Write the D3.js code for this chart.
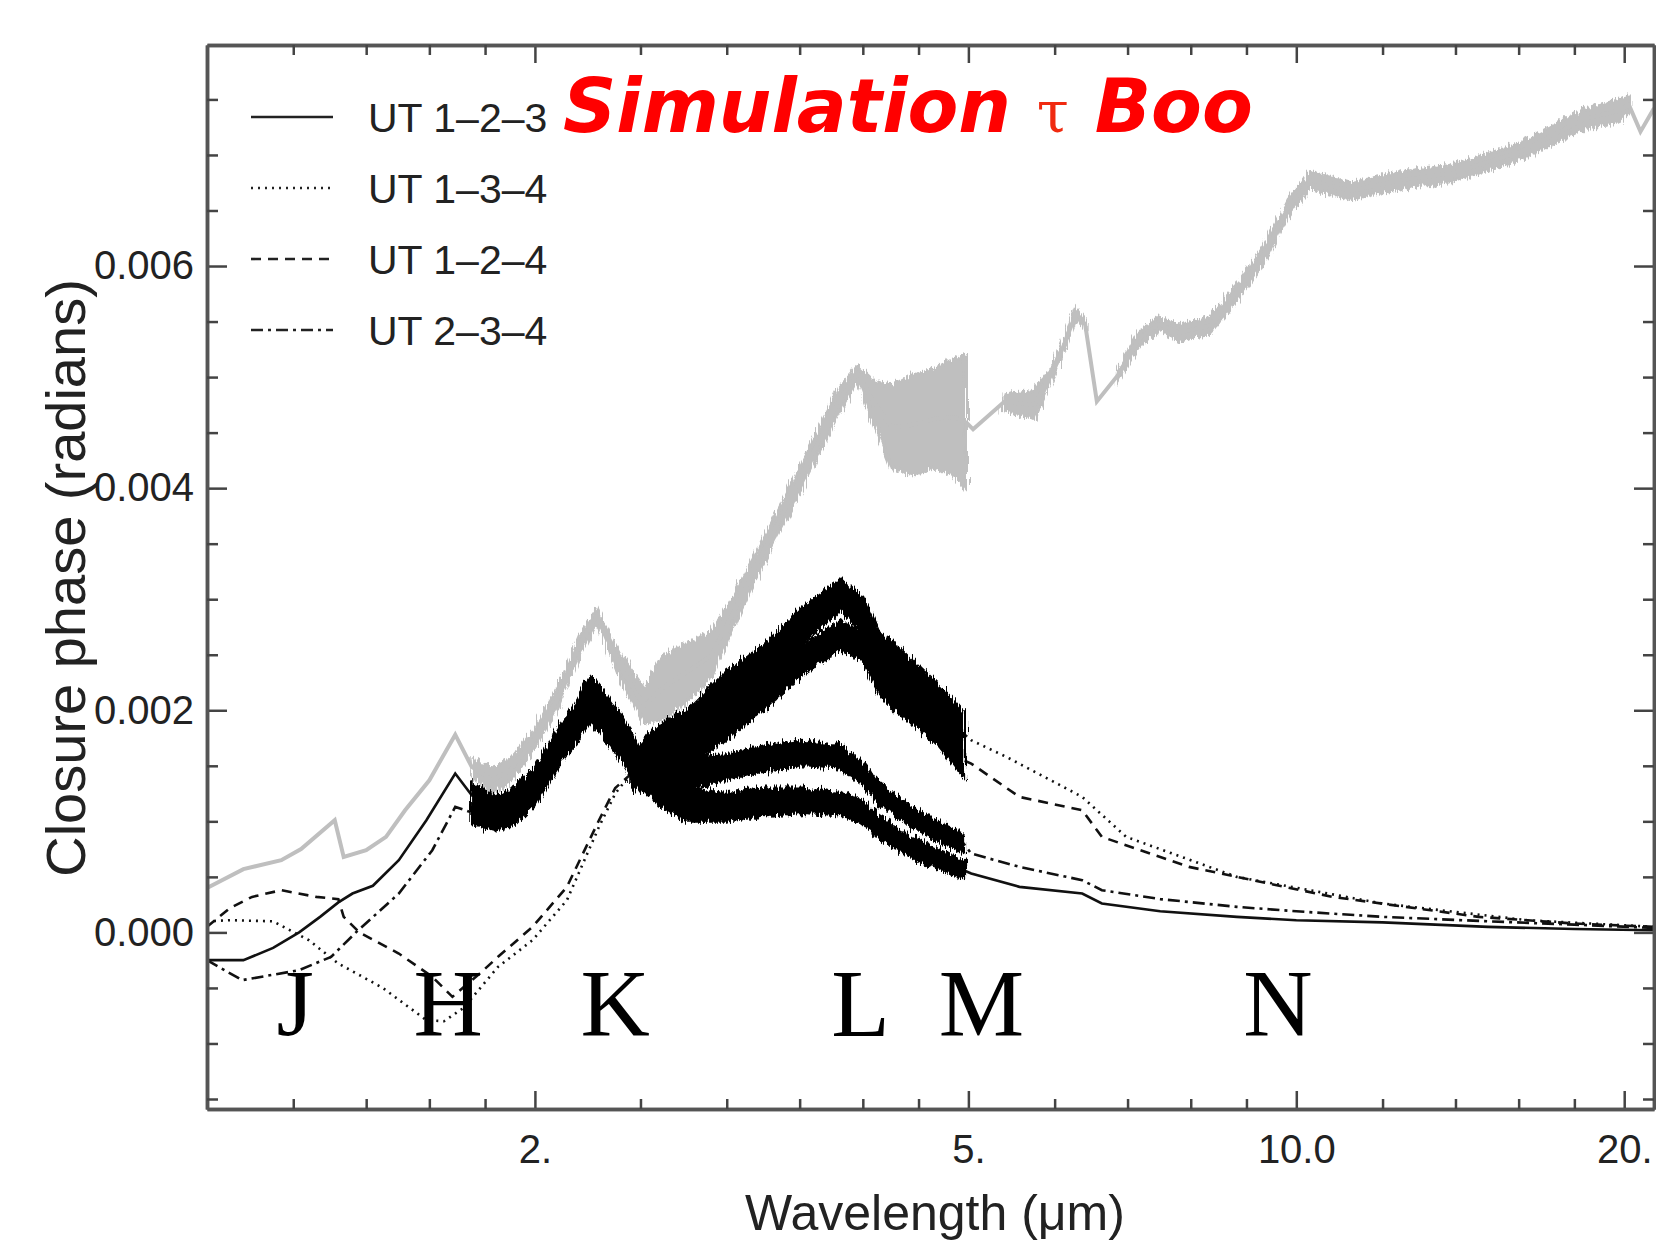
<!DOCTYPE html>
<html>
<head>
<meta charset="utf-8">
<script src="https://cdnjs.cloudflare.com/ajax/libs/d3/7.8.5/d3.min.js"></script>
<style>
  body { margin: 0; background: #fff; }
  svg { display: block; }
  .tick-label { font-family: "Liberation Sans", Arial, sans-serif; font-size: 40px; fill: #222; }
</style>
</head>
<body>
<div id="container"></div>
<script>
// ---- data ----
// points are [wavelength (um), value] on clean parts and [wavelength, low, high] where the trace is a noisy band
var grayCurve = [
  [1.00, 0.00040], [1.08, 0.00057], [1.17, 0.00065], [1.22, 0.00075], [1.31, 0.00101],
  [1.335, 0.00068], [1.40, 0.00074], [1.46, 0.00086], [1.52, 0.00110], [1.60, 0.00137],
  [1.69, 0.00178], [1.75, 0.00142, 0.00156], [1.83, 0.00126, 0.00148], [1.90, 0.00137, 0.00156],
  [2.00, 0.00166, 0.00184], [2.10, 0.00202, 0.00220], [2.20, 0.00252, 0.00268], [2.28, 0.00280, 0.00290],
  [2.40, 0.00227, 0.00248], [2.52, 0.00188, 0.00220], [2.62, 0.00192, 0.00248], [2.75, 0.00207, 0.00260],
  [2.90, 0.00228, 0.00270], [3.05, 0.00277, 0.00303], [3.22, 0.00327, 0.00348], [3.40, 0.00372, 0.00393],
  [3.60, 0.00422, 0.00443], [3.80, 0.00467, 0.00490], [3.96, 0.00497, 0.00510], [4.08, 0.00462, 0.00498],
  [4.25, 0.00418, 0.00492], [4.45, 0.00412, 0.00502], [4.65, 0.00418, 0.00507], [4.85, 0.00412, 0.00516],
  [4.98, 0.00398, 0.00520], [5.05, 0.00453], [5.39, 0.00470, 0.00485], [5.75, 0.00462, 0.00488],
  [6.00, 0.00503, 0.00512], [6.28, 0.00553, 0.00562], [6.40, 0.00543, 0.00552], [6.56, 0.00478],
  [6.85, 0.00496, 0.00506], [7.16, 0.00527, 0.00540], [7.47, 0.00542, 0.00554], [7.80, 0.00533, 0.00547],
  [8.34, 0.00540, 0.00553], [8.70, 0.00562, 0.00576], [9.10, 0.00588, 0.00602], [9.40, 0.00608, 0.00622],
  [9.83, 0.00645, 0.00660], [10.3, 0.00670, 0.00685], [11.2, 0.00660, 0.00675], [12.5, 0.00670, 0.00685],
  [13.9, 0.00676, 0.00691], [16.0, 0.00695, 0.00710], [18.4, 0.00724, 0.00741], [19.8, 0.00730, 0.00750],
  [20.2, 0.00738, 0.00752], [20.7, 0.00721], [21.3, 0.00742]
];

var ut123 = [
  [1.00, -0.00025], [1.08, -0.00025], [1.15, -0.00014], [1.215, 0.0], [1.27, 0.00014], [1.32, 0.00027],
  [1.36, 0.00035], [1.42, 0.00042], [1.50, 0.00065], [1.59, 0.00101], [1.69, 0.00143],
  [1.75, 0.00112, 0.00135], [1.84, 0.00098, 0.00122], [1.92, 0.00108, 0.00132], [2.00, 0.00125, 0.00148],
  [2.10, 0.00160, 0.00183], [2.17, 0.00180, 0.00203], [2.25, 0.00208, 0.00230], [2.32, 0.00190, 0.00215],
  [2.40, 0.00168, 0.00195], [2.50, 0.00135, 0.00165], [2.60, 0.00115, 0.00148], [2.75, 0.00100, 0.00130],
  [3.00, 0.00100, 0.00125], [3.25, 0.00105, 0.00130], [3.52, 0.00108, 0.00130], [3.81, 0.00106, 0.00126],
  [4.00, 0.00098, 0.00118], [4.14, 0.00086, 0.00105], [4.30, 0.00075, 0.00093], [4.49, 0.00065, 0.00083],
  [4.70, 0.00057, 0.00074], [4.95, 0.00048, 0.00064],
  [5.03, 0.00053], [5.57, 0.00041], [6.36, 0.00035], [6.63, 0.00026], [7.5, 0.00019], [8.82, 0.00014],
  [10.0, 0.00011], [12.0, 0.00009], [15.0, 0.00005], [18.0, 0.00003], [21.3, 0.00002]
];

var ut134 = [
  [1.00, 0.00010], [1.05, 0.00011], [1.15, 0.00010], [1.24, -0.00007], [1.32, -0.00028], [1.45, -0.00050],
  [1.59, -0.00079], [1.65, -0.00080], [1.72, -0.00068], [1.85, -0.00031], [1.99, -0.00007], [2.14, 0.00029],
  [2.29, 0.00095], [2.37, 0.00125],
  [2.45, 0.00128, 0.00158], [2.55, 0.00145, 0.00178], [2.65, 0.00155, 0.00192], [2.76, 0.00163, 0.00200],
  [3.00, 0.00195, 0.00235], [3.24, 0.00222, 0.00258], [3.52, 0.00260, 0.00292], [3.81, 0.00290, 0.00318],
  [4.00, 0.00270, 0.00302], [4.14, 0.00240, 0.00270], [4.30, 0.00225, 0.00258], [4.49, 0.00205, 0.00240],
  [4.70, 0.00185, 0.00222], [4.95, 0.00160, 0.00198],
  [5.03, 0.00173], [5.42, 0.00158], [6.36, 0.00122], [6.98, 0.00086], [8.82, 0.00050], [12.0, 0.00026],
  [16.3, 0.00011], [21.3, 0.00005]
];

var ut124 = [
  [1.00, 0.00005], [1.05, 0.00022], [1.10, 0.00032], [1.17, 0.00038], [1.26, 0.00032], [1.32, 0.00030],
  [1.335, 0.00014], [1.38, 0.0], [1.50, -0.00019], [1.61, -0.00040], [1.68, -0.00058], [1.78, -0.00037],
  [1.85, -0.00022], [1.99, 0.00005], [2.14, 0.00041], [2.29, 0.00101], [2.37, 0.00130],
  [2.45, 0.00130, 0.00155], [2.55, 0.00135, 0.00165], [2.65, 0.00140, 0.00175], [2.76, 0.00148, 0.00182],
  [3.00, 0.00175, 0.00205], [3.24, 0.00200, 0.00228], [3.52, 0.00232, 0.00258], [3.81, 0.00255, 0.00280],
  [4.00, 0.00245, 0.00270], [4.14, 0.00215, 0.00242], [4.30, 0.00198, 0.00225], [4.49, 0.00185, 0.00213],
  [4.70, 0.00168, 0.00196], [4.95, 0.00140, 0.00170],
  [5.03, 0.00152], [5.57, 0.00122], [6.36, 0.00110], [6.63, 0.00086], [7.97, 0.00059], [10.8, 0.00032],
  [14.7, 0.00014], [18.0, 0.00008], [21.3, 0.00005]
];

var ut234 = [
  [1.00, -0.00025], [1.077, -0.00043], [1.215, -0.00034], [1.30, -0.00022], [1.37, 0.0], [1.50, 0.00035],
  [1.61, 0.00074], [1.69, 0.00113],
  [1.75, 0.00098, 0.00118], [1.84, 0.00092, 0.00112], [1.92, 0.00098, 0.00118], [2.00, 0.00115, 0.00135],
  [2.10, 0.00148, 0.00168], [2.17, 0.00168, 0.00188], [2.25, 0.00190, 0.00210], [2.32, 0.00175, 0.00195],
  [2.40, 0.00155, 0.00178], [2.50, 0.00128, 0.00152], [2.60, 0.00120, 0.00150], [2.75, 0.00128, 0.00158],
  [3.00, 0.00138, 0.00160], [3.25, 0.00145, 0.00168], [3.52, 0.00150, 0.00172], [3.81, 0.00148, 0.00168],
  [4.00, 0.00133, 0.00153], [4.14, 0.00116, 0.00134], [4.30, 0.00104, 0.00122], [4.49, 0.00092, 0.00110],
  [4.70, 0.00082, 0.00099], [4.95, 0.00072, 0.00088],
  [5.03, 0.00071], [5.57, 0.00059], [6.36, 0.00047], [6.63, 0.00038], [7.5, 0.00030], [8.82, 0.00023],
  [10.0, 0.00019], [12.0, 0.00014], [15.0, 0.00010], [18.0, 0.00007], [21.3, 0.00004]
];

var seriesNames = ["UT 1\u20132\u20133", "UT 1\u20133\u20134", "UT 1\u20132\u20134", "UT 2\u20133\u20134"];
var seriesData = [ut123, ut134, ut124, ut234];

var bandNames = ["J", "H", "K", "L", "M", "N"];
var bandCenters = [1.205, 1.665, 2.37, 3.98, 5.14, 9.62];

var xMajor = [2, 5, 10, 20];
var xMajorLabels = ["2.", "5.", "10.0", "20."];
var xMinor = [1.2, 1.4, 1.6, 1.8, 2.5, 3, 3.5, 4, 4.5, 6, 7, 8, 9, 12, 14, 16, 18];
var yMajor = [0, 0.002, 0.004, 0.006];
var yMajorLabels = ["0.000", "0.002", "0.004", "0.006"];
var yMinor = [-0.0015, -0.001, -0.0005, 0.0005, 0.001, 0.0015, 0.0025, 0.003, 0.0035,
              0.0045, 0.005, 0.0055, 0.0065, 0.007, 0.0075];

// ---- layout / styles ----
var width = 1656, height = 1245;
var plot = { left: 207, right: 1654, top: 45, bottom: 1109 };
var dashes = ["none", "2,5", "10,7", "12,5,3,5"];

var svg = d3.select("#container").append("svg")
    .attr("width", width)
    .attr("height", height);

// roughens the noisy bands a little
var defs = svg.append("defs");
var filt = defs.append("filter").attr("id", "rough")
    .attr("x", "-5%").attr("y", "-20%").attr("width", "110%").attr("height", "140%");
filt.append("feTurbulence").attr("type", "fractalNoise")
    .attr("baseFrequency", "0.6 0.04").attr("numOctaves", 2).attr("seed", 3).attr("result", "n");
filt.append("feDisplacementMap").attr("in", "SourceGraphic").attr("in2", "n")
    .attr("scale", 12).attr("xChannelSelector", "R").attr("yChannelSelector", "G");

var x = d3.scaleLog().domain([1.0, 21.3]).range([plot.left, plot.right]);
var y = d3.scaleLinear().domain([-0.00159, 0.00799]).range([plot.bottom, plot.top]);

function lo(d) { return d[1]; }
function hi(d) { return d.length > 2 ? d[2] : d[1]; }

var centerLine = d3.line()
    .x(function (d) { return x(d[0]); })
    .y(function (d) { return y((lo(d) + hi(d)) / 2); });

var bandArea = d3.area()
    .defined(function (d) { return d.length > 2; })
    .x(function (d) { return x(d[0]); })
    .y0(function (d) { return y(lo(d)); })
    .y1(function (d) { return y(hi(d)); });

var chart = svg.append("g");

// grey trace (behind)
chart.append("path")
    .datum(grayCurve)
    .attr("d", bandArea)
    .attr("fill", "#bfbfbf")
    .attr("stroke", "#bfbfbf")
    .attr("stroke-width", 3)
    .attr("filter", "url(#rough)");
chart.append("path")
    .datum(grayCurve)
    .attr("d", centerLine)
    .attr("fill", "none")
    .attr("stroke", "#bfbfbf")
    .attr("stroke-width", 4);

// black traces
seriesData.forEach(function (s, i) {
    chart.append("path")
        .datum(s)
        .attr("d", centerLine)
        .attr("fill", "none")
        .attr("stroke", "#111")
        .attr("stroke-width", 2.6)
        .attr("stroke-dasharray", dashes[i]);
    chart.append("path")
        .datum(s)
        .attr("d", bandArea)
        .attr("fill", "#000")
        .attr("stroke", "#000")
        .attr("stroke-width", 3)
        .attr("filter", "url(#rough)");
});

// ---- axes (ticks point inwards) ----
function styleAxis(g) {
    g.select(".domain").attr("stroke", "#555").attr("stroke-width", 3.5);
    g.selectAll(".tick line").attr("stroke", "#444").attr("stroke-width", 2.5);
    g.selectAll("text").attr("class", "tick-label");
}

svg.append("g")
    .attr("transform", "translate(0," + plot.bottom + ")")
    .call(d3.axisBottom(x).tickValues(xMajor).tickSizeInner(-18).tickSizeOuter(0).tickPadding(26)
        .tickFormat(function (d, i) { return xMajorLabels[i]; }))
    .call(styleAxis);
svg.append("g")
    .attr("transform", "translate(0," + plot.bottom + ")")
    .call(d3.axisBottom(x).tickValues(xMinor).tickSizeInner(-10).tickSizeOuter(0).tickFormat(""))
    .call(styleAxis);
svg.append("g")
    .attr("transform", "translate(0," + plot.top + ")")
    .call(d3.axisTop(x).tickValues(xMajor).tickSizeInner(-18).tickSizeOuter(0).tickFormat(""))
    .call(styleAxis);
svg.append("g")
    .attr("transform", "translate(0," + plot.top + ")")
    .call(d3.axisTop(x).tickValues(xMinor).tickSizeInner(-10).tickSizeOuter(0).tickFormat(""))
    .call(styleAxis);

svg.append("g")
    .attr("transform", "translate(" + plot.left + ",0)")
    .call(d3.axisLeft(y).tickValues(yMajor).tickSizeInner(-20).tickSizeOuter(0).tickPadding(13)
        .tickFormat(function (d, i) { return yMajorLabels[i]; }))
    .call(styleAxis);
svg.append("g")
    .attr("transform", "translate(" + plot.left + ",0)")
    .call(d3.axisLeft(y).tickValues(yMinor).tickSizeInner(-11).tickSizeOuter(0).tickFormat(""))
    .call(styleAxis);
svg.append("g")
    .attr("transform", "translate(" + plot.right + ",0)")
    .call(d3.axisRight(y).tickValues(yMajor).tickSizeInner(-20).tickSizeOuter(0).tickFormat(""))
    .call(styleAxis);
svg.append("g")
    .attr("transform", "translate(" + plot.right + ",0)")
    .call(d3.axisRight(y).tickValues(yMinor).tickSizeInner(-11).tickSizeOuter(0).tickFormat(""))
    .call(styleAxis);

// axis titles
svg.append("text")
    .attr("transform", "translate(85,578) rotate(-90)")
    .attr("text-anchor", "middle")
    .style("font-family", "'Liberation Sans', Arial, sans-serif")
    .style("font-size", "56px")
    .style("fill", "#222")
    .text("Closure phase (radians)");

svg.append("text")
    .attr("x", 935)
    .attr("y", 1230)
    .attr("text-anchor", "middle")
    .style("font-family", "'Liberation Sans', Arial, sans-serif")
    .style("font-size", "50px")
    .style("fill", "#222")
    .text("Wavelength (\u03bcm)");

// photometric band letters
svg.selectAll(".band")
    .data(bandNames)
    .enter()
    .append("text")
    .attr("class", "band")
    .attr("x", function (d, i) { return x(bandCenters[i]); })
    .attr("y", y(-0.00093))
    .attr("text-anchor", "middle")
    .style("font-family", "'Liberation Serif', 'Times New Roman', serif")
    .style("font-size", "96px")
    .style("fill", "#000")
    .text(function (d) { return d; });

// legend
var legend = svg.selectAll(".legend")
    .data(seriesNames)
    .enter()
    .append("g")
    .attr("class", "legend")
    .attr("transform", function (d, i) { return "translate(0," + (117 + i * 71) + ")"; });

legend.append("line")
    .attr("x1", 251).attr("x2", 333)
    .attr("y1", 0).attr("y2", 0)
    .attr("stroke", "#222")
    .attr("stroke-width", 2.6)
    .attr("stroke-dasharray", function (d, i) { return dashes[i]; });

legend.append("text")
    .attr("x", 368)
    .attr("y", 15)
    .style("font-family", "'Liberation Sans', Arial, sans-serif")
    .style("font-size", "41px")
    .style("fill", "#222")
    .text(function (d) { return d; });

// red title
var title = svg.append("text")
    .attr("x", 563)
    .attr("y", 132)
    .style("font-family", "'DejaVu Sans', sans-serif")
    .style("font-weight", "bold")
    .style("font-style", "italic")
    .style("font-size", "74px")
    .style("fill", "#ff0000");
title.append("tspan").text("Simulation ");
title.append("tspan")
    .style("font-family", "'DejaVu Serif', serif")
    .style("font-weight", "normal")
    .style("font-style", "normal")
    .style("font-size", "58px")
    .style("fill", "#f02a10")
    .text("\u03c4");
title.append("tspan").text(" Boo");
</script>
</body>
</html>
